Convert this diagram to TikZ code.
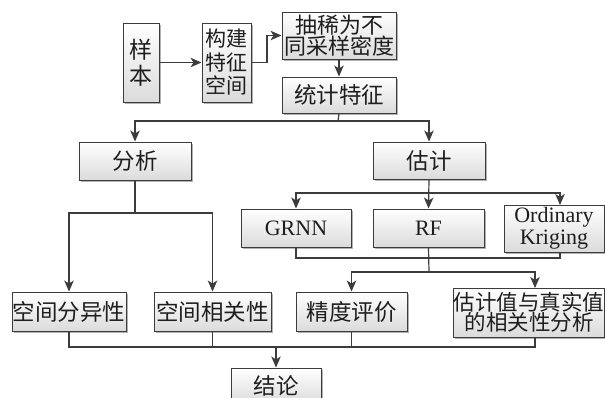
\documentclass[tikz,border=0pt]{standalone}
\usepackage{fontspec}
\setmainfont{Liberation Serif}
\newfontfamily\cjk{Noto Sans CJK SC}
\usetikzlibrary{arrows.meta,shadows}
\definecolor{linec}{RGB}{60,60,60}
\definecolor{textc}{RGB}{30,30,30}
\begin{document}
\begin{tikzpicture}[x=1pt,y=-1pt,
  box/.style={draw=linec, line width=1pt, top color=white, bottom color=black!14,
    drop shadow={shadow xshift=1.5pt, shadow yshift=-1.5pt, fill=black, opacity=0.3},
    text=textc, align=center, inner sep=0pt, font=\cjk\fontsize{22.5}{25}\selectfont},
  lat/.style={font=\fontsize{22}{22}\selectfont},
  conn/.style={draw=linec, line width=1.2pt},
  arr/.style={conn, -{Stealth[length=11pt,width=9.5pt,inset=3pt]}},
]
\useasboundingbox (0,0) rectangle (605,397);
% top row
\node[box, minimum width=36, minimum height=79, font=\cjk\fontsize{23}{26}\selectfont] (yb) at (141,62.5) {样\\本};
\node[box, minimum width=49, minimum height=79, font=\cjk\fontsize{21}{23.5}\selectfont] (gj) at (226.5,62.5) {构建\\特征\\空间};
\node[box, minimum width=114, minimum height=47, font=\cjk\fontsize{22}{21}\selectfont] (cx) at (339,35.5) {抽稀为不\\同采样密度};
\node[box, minimum width=114, minimum height=36] (tj) at (339,95) {统计特征};
% second row
\node[box, minimum width=112, minimum height=38] (fx) at (135,161) {分析};
\node[box, minimum width=112, minimum height=37] (gu) at (429,160.5) {估计};
% models
\node[box, lat, minimum width=110, minimum height=38] (grnn) at (296,228) {GRNN};
\node[box, lat, minimum width=111, minimum height=38] (rf) at (428.5,228) {RF};
\node[box, lat, minimum width=100, minimum height=47] (ok) at (554,228.5) {Ordinary\\Kriging};
% results
\node[box, minimum width=114, minimum height=39] (fy) at (69,311.5) {空间分异性};
\node[box, minimum width=117, minimum height=39] (xg) at (212.5,311.5) {空间相关性};
\node[box, minimum width=111, minimum height=39] (jd) at (351.5,311.5) {精度评价};
\node[box, minimum width=150, minimum height=49, font=\cjk\fontsize{21.5}{20.5}\selectfont] (gz) at (529,312.5) {估计值与真实值\\的相关性分析};
\node[box, minimum width=90, minimum height=36] (jl) at (276,386) {结论};
% coordinates
\coordinate (k1) at (267,62.5);
\coordinate (b1) at (338,121);
\coordinate (b2) at (135,213);
\coordinate (b3) at (429,193);
\coordinate (okin) at (560,205);
\coordinate (okout) at (560,252);
\coordinate (c1) at (296,258);
\coordinate (c2) at (560,258);
\coordinate (b5) at (429,272);
\coordinate (gzin) at (535,288);
\coordinate (gzout) at (535,337);
\coordinate (d1) at (69,347);
\coordinate (d4) at (535,347);
\coordinate (b6) at (276,347);
% connectors
\draw[arr] (yb) -- (gj);
\draw[arr] (gj.east) -- (k1) |- (cx.west);
\draw[arr] (cx.south) -- (tj.north);
\draw[conn] (tj.south) -- (b1);
\draw[arr] (b1) -| (fx.north);
\draw[arr] (b1) -| (gu.north);
\draw[conn] (fx.south) -- (b2);
\draw[arr] (b2) -| (fy.north);
\draw[arr] (b2) -| (xg.north);
\draw[arr] (gu.south) -- (rf.north);
\draw[arr] (b3) -| (grnn.north);
\draw[arr] (b3) -| (okin);
\draw[conn] (grnn.south) -- (c1) -- (c2) -- (okout);
\draw[conn] (rf.south) -- (b5);
\draw[arr] (b5) -| (jd.north);
\draw[arr] (b5) -| (gzin);
\draw[conn] (fy.south) -- (d1) -- (d4) -- (gzout);
\draw[conn] (xg.south) -- (xg.south |- d1);
\draw[conn] (jd.south) -- (jd.south |- d1);
\draw[arr] (b6) -- (jl.north);
\end{tikzpicture}
\end{document}
